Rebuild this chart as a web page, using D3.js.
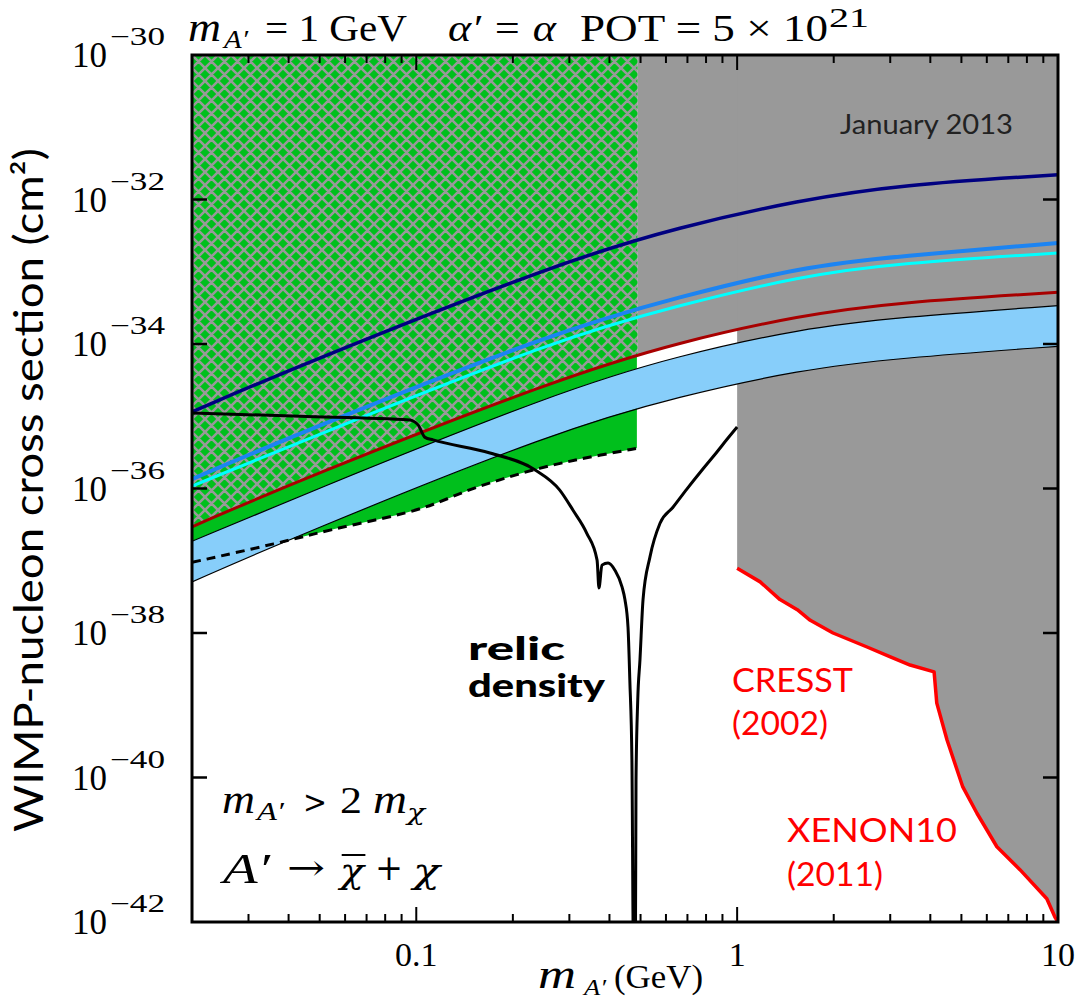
<!DOCTYPE html>
<html>
<head>
<meta charset="utf-8">
<script src="https://cdn.jsdelivr.net/npm/d3@7"></script>
<style>
  body { margin: 0; background: #fff; }
  .serif { font-family: "Liberation Serif", "DejaVu Serif", serif; }
  .dserif { font-family: "DejaVu Serif", serif; }
  .sans { font-family: Lato, "Open Sans", sans-serif; }
</style>
</head>
<body>
<div id="chart"></div>
<script>
// values: mass in GeV, cross section in cm^2
var massGrid = [0.02, 0.0434, 0.28, 0.663, 1.57, 3.2, 10];
var navySigma = [1.15e-35, 5.1e-35, 1.35e-33, 4.2e-33, 9.8e-33, 1.6e-32, 2.2e-32];
var blueSigma = [1.35e-36, 5.9e-36, 1.56e-34, 4.5e-34, 1.16e-33, 1.65e-33, 2.5e-33];
var cyanSigma = [1.08e-36, 4.4e-36, 1.21e-34, 3.45e-34, 8.7e-34, 1.32e-33, 1.82e-33];
var redSigma = [2.95e-37, 1.32e-36, 3.4e-35, 1.07e-34, 2.5e-34, 3.8e-34, 5.2e-34];
var bandTop = [1.86e-37, 7.9e-37, 2.24e-35, 7.0e-35, 1.62e-34, 2.35e-34, 3.4e-34];
var bandBottom = [5.1e-38, 2.3e-37, 6.5e-36, 1.9e-35, 4.4e-35, 6.4e-35, 9.3e-35];

var dashedMass = [0.02, 0.0376, 0.0538, 0.089, 0.113, 0.144, 0.182, 0.231, 0.295, 0.374, 0.487];
var dashedSigma = [9.5e-38, 1.77e-37, 2.7e-37, 4.3e-37, 5.9e-37, 9.5e-37, 1.32e-36, 1.82e-36, 2.35e-36, 2.9e-36, 3.6e-36];

var relicMass = [0.02, 0.0434, 0.0956, 0.0991, 0.1013, 0.1065, 0.1128, 0.1697, 0.234, 0.28, 0.308, 0.340,
  0.366, 0.371, 0.379, 0.396, 0.416, 0.438, 0.447, 0.457, 0.463, 0.470, 0.475, 0.482, 0.484, 0.490,
  0.498, 0.509, 0.535, 0.575, 0.631, 0.697, 0.782, 0.865, 0.93, 1.0];
var relicSigma = [1.11e-35, 1.0e-35, 8.9e-36, 8.3e-36, 7.6e-36, 5.1e-36, 4.7e-36, 3.1e-36, 1.82e-36, 9.5e-37, 5.0e-37, 2.4e-37,
  1.02e-37, 4.2e-38, 8.7e-38, 9.3e-38, 7.4e-38, 4.3e-38, 2.9e-38, 1.2e-38, 2.2e-39, 1.7e-40, 5e-43, 5e-43, 9.3e-41, 1.17e-39,
  4.3e-39, 2.9e-38, 1.13e-37, 3.3e-37, 5.5e-37, 9.8e-37, 1.86e-36, 3.2e-36, 4.8e-36, 7.1e-36];

var cresstMass = [1.0, 1.18, 1.36, 1.54, 1.69, 1.99, 2.54, 2.99, 3.46, 4.11, 4.19, 4.51, 5.05, 5.59, 6.45, 7.61, 9.23, 9.78, 10];
var cresstSigma = [7.9e-38, 5.1e-38, 2.9e-38, 2.1e-38, 1.5e-38, 1.0e-38, 6.4e-39, 4.7e-39, 3.6e-39, 2.9e-39, 1.07e-39,
  3.3e-40, 7.4e-41, 3.2e-41, 1.1e-41, 5.3e-42, 2.1e-42, 1.17e-42, 1.0e-42];

var hatchEdge = 0.49;     // right edge of the hatched/green region
var grayEdge = 1;         // m_A'
var xMajor = [0.1, 1];
var xMinor = [0.03, 0.04, 0.05, 0.06, 0.07, 0.08, 0.09, 0.2, 0.3, 0.4, 0.5, 0.6, 0.7, 0.8, 0.9, 2, 3, 4, 5, 6, 7, 8, 9];
var xLabels = [0.1, 1, 10];
var yExps = [-30, -32, -34, -36, -38, -40, -42];

var width = 1078, height = 1003;
var margin = { left: 192, right: 20, top: 55, bottom: 81 };

var x = d3.scaleLog().domain([0.02, 10]).range([margin.left, width - margin.right]);
var y = d3.scaleLog().domain([1e-42, 1e-30]).range([height - margin.bottom, margin.top]);
var top0 = y(1e-30);

var svg = d3.select('#chart').append('svg')
    .attr('width', width)
    .attr('height', height);

var defs = svg.append('defs');
function clipRect(id, xa, xb) {
  defs.append('clipPath').attr('id', id)
    .append('rect')
      .attr('x', xa).attr('y', top0)
      .attr('width', xb - xa).attr('height', y(1e-42) - top0);
}
clipRect('plot', x(0.02), x(10));
clipRect('hatchClip', x(0.02), x(hatchEdge));
clipRect('grayClip', x(hatchEdge), x(grayEdge) + 1);

var pat = defs.append('pattern').attr('id', 'xhatch')
    .attr('patternUnits', 'userSpaceOnUse')
    .attr('x', x(0.02)).attr('y', top0)
    .attr('width', 13).attr('height', 13);
pat.append('rect').attr('width', 13).attr('height', 13).attr('fill', '#00bf1c');
pat.append('path')
    .attr('d', 'M-3,-3L16,16M16,-3L-3,16M-3,3L3,-3M10,16L16,10M10,-3L16,3M-3,10L3,16')
    .attr('stroke', '#999').attr('stroke-width', 2.5).attr('fill', 'none');

function zipGrid(vals) { return massGrid.map(function (m, i) { return [m, vals[i]]; }); }
function zip(ms, vals) { return ms.map(function (m, i) { return [m, vals[i]]; }); }

var smooth = d3.curveBasis;
var line = d3.line()
    .x(function (d) { return x(d[0]); })
    .y(function (d) { return y(d[1]); })
    .curve(smooth);
var areaFromTop = d3.area()
    .x(function (d) { return x(d[0]); })
    .y0(top0)
    .y1(function (d) { return y(d[1]); })
    .curve(smooth);

var g = svg.append('g').attr('clip-path', 'url(#plot)');

// solid green down to the dashed line
g.append('path')
    .attr('d', areaFromTop(zip(dashedMass, dashedSigma)))
    .attr('fill', '#00bf1c');

// cross-hatch above the red line
g.append('g').attr('clip-path', 'url(#hatchClip)')
  .append('path')
    .attr('d', areaFromTop(zipGrid(redSigma)))
    .attr('fill', 'url(#xhatch)');

// gray exclusion regions
g.append('g').attr('clip-path', 'url(#grayClip)')
  .append('path')
    .attr('d', areaFromTop(zipGrid(redSigma)))
    .attr('fill', '#999');
g.append('path')
    .attr('d', d3.area()
      .x(function (d) { return x(d[0]); })
      .y0(top0)
      .y1(function (d) { return y(d[1]); })(zip(cresstMass, cresstSigma)))
    .attr('fill', '#999');

// light blue band
var band = massGrid.map(function (m, i) { return [m, bandTop[i], bandBottom[i]]; });
g.append('path')
    .attr('d', d3.area()
      .x(function (d) { return x(d[0]); })
      .y0(function (d) { return y(d[2]); })
      .y1(function (d) { return y(d[1]); })
      .curve(smooth)(band))
    .attr('fill', '#87cefa');
[bandTop, bandBottom].forEach(function (s) {
  g.append('path').attr('d', line(zipGrid(s)))
      .attr('fill', 'none').attr('stroke', '#000').attr('stroke-width', 1.2);
});

var curves = [
  { vals: redSigma, color: '#a80000', w: 3 },
  { vals: blueSigma, color: '#1c84f2', w: 4 },
  { vals: cyanSigma, color: '#00ffff', w: 3 },
  { vals: navySigma, color: '#000080', w: 3.5 }
];
curves.forEach(function (c) {
  g.append('path').attr('d', line(zipGrid(c.vals)))
      .attr('fill', 'none').attr('stroke', c.color).attr('stroke-width', c.w);
});

g.append('path').attr('d', line(zip(dashedMass, dashedSigma)))
    .attr('fill', 'none').attr('stroke', '#000').attr('stroke-width', 3)
    .attr('stroke-dasharray', '9,6');

g.append('path').attr('d', d3.line()
      .x(function (d) { return x(d[0]); })
      .y(function (d) { return y(d[1]); })
      .curve(d3.curveMonotoneX)(zip(relicMass, relicSigma)))
    .attr('fill', 'none').attr('stroke', '#000').attr('stroke-width', 3)
    .attr('stroke-linejoin', 'round');

g.append('path').attr('d', d3.line()
      .x(function (d) { return x(d[0]); })
      .y(function (d) { return y(d[1]); })(zip(cresstMass, cresstSigma)))
    .attr('fill', 'none').attr('stroke', '#ff0000').attr('stroke-width', 3.5)
    .attr('stroke-linejoin', 'round');

// frame and inward ticks
var x0 = x(0.02), x1 = x(10), yb = y(1e-42);
var axes = svg.append('g').attr('stroke', '#000');
axes.append('rect')
    .attr('x', x0).attr('y', top0).attr('width', x1 - x0).attr('height', yb - top0)
    .attr('fill', 'none').attr('stroke-width', 3);
function xticks(vals, len) {
  vals.forEach(function (v) {
    axes.append('line').attr('x1', x(v)).attr('x2', x(v)).attr('y1', yb).attr('y2', yb - len).attr('stroke-width', 2);
    axes.append('line').attr('x1', x(v)).attr('x2', x(v)).attr('y1', top0).attr('y2', top0 + len).attr('stroke-width', 2);
  });
}
xticks(xMajor, 15);
xticks(xMinor, 8);
yExps.slice(1, -1).forEach(function (e) {
  var yy = y(Math.pow(10, e));
  axes.append('line').attr('x1', x0).attr('x2', x0 + 15).attr('y1', yy).attr('y2', yy).attr('stroke-width', 2.5);
  axes.append('line').attr('x1', x1).attr('x2', x1 - 15).attr('y1', yy).attr('y2', yy).attr('stroke-width', 2.5);
});

// text helper: one text element per piece so each can be placed where the figure has it
function txt(cls, px, py, s, size, opts) {
  opts = opts || {};
  var t = svg.append('text').attr('class', cls)
      .attr('x', px).attr('y', py).attr('font-size', size).text(s);
  if (opts.italic) t.attr('font-style', 'italic');
  if (opts.weight) t.attr('font-weight', opts.weight);
  if (opts.fill) t.attr('fill', opts.fill);
  if (opts.anchor) t.attr('text-anchor', opts.anchor);
  if (opts.len) t.attr('textLength', opts.len).attr('lengthAdjust', 'spacingAndGlyphs');
  return t;
}

// tick labels
yExps.forEach(function (e) {
  var yy = y(Math.pow(10, e));
  txt('serif', 72, yy + 12, '10', 35, { len: 35 });
  txt('serif', 110, yy - 10, '\u2212' + Math.abs(e), 25, { len: 55 });
});
xLabels.forEach(function (v) {
  txt('serif', x(v), 966, d3.format('~g')(v), 34, { anchor: 'middle' });
});

// axis titles
txt('serif', 538, 988, 'm', 40, { italic: true, len: 38 });
txt('serif', 584, 995, 'A\u2032', 23, { italic: true, len: 22 });
txt('serif', 614, 988, '(GeV)', 34, { len: 89 });

svg.append('text').attr('class', 'sans')
    .attr('transform', 'translate(43,490) rotate(-90)')
    .attr('text-anchor', 'middle').attr('font-size', 40)
    .attr('textLength', 684).attr('lengthAdjust', 'spacingAndGlyphs')
    .text('WIMP-nucleon cross section (cm\u00b2)');

// header
txt('serif', 188, 41, 'm', 40, { italic: true, len: 33 });
txt('serif', 224, 48, 'A\u2032', 25, { italic: true, len: 24 });
txt('serif', 265, 41, '= 1 GeV', 38, { len: 142 });
txt('serif', 448, 41, '\u03b1\u2032 = \u03b1', 38, { italic: true, len: 108 });
txt('serif', 580, 41, 'POT = 5 \u00d7 10', 38, { len: 248 });
txt('serif', 829, 27, '21', 27, { len: 40 });

// annotations
txt('sans', 840, 134, 'January 2013', 27, { fill: '#222', len: 173 });
txt('sans', 468, 660, 'relic', 32, { weight: 900, len: 97 });
txt('sans', 468, 697, 'density', 32, { weight: 900, len: 137 });

var redLabels = [
  { t: 'CRESST', x: 732, y: 692, w: 121 },
  { t: '(2002)', x: 732, y: 735, w: 96 },
  { t: 'XENON10', x: 787, y: 842, w: 170 },
  { t: '(2011)', x: 787, y: 886, w: 96 }
];
redLabels.forEach(function (d) {
  txt('sans', d.x, d.y, d.t, 33, { fill: '#ff0000', len: d.w });
});

// m_A' > 2 m_chi
txt('serif', 222, 813, 'm', 40, { italic: true, len: 33 });
txt('serif', 257, 820, 'A\u2032', 26, { italic: true, len: 27 });
txt('dserif', 303, 813, '>', 32, { len: 24 });
txt('serif', 340, 813, '2', 38, { len: 22 });
txt('serif', 373, 813, 'm', 40, { italic: true, len: 34 });
txt('dserif', 407, 820, '\u03c7', 22, { italic: true, len: 18 });

// A' -> chi-bar + chi
txt('serif', 223, 883, 'A\u2032', 42, { italic: true, len: 47 });
txt('dserif', 287, 880, '\u2192', 36, { len: 38 });
var chiBar = txt('dserif', 340, 883, '\u03c7', 36, { italic: true, len: 24 });
var bb = chiBar.node().getBBox();
svg.append('line')
    .attr('x1', bb.x + 5).attr('x2', bb.x + bb.width - 1)
    .attr('y1', 855).attr('y2', 855)
    .attr('stroke', '#000').attr('stroke-width', 2);
txt('dserif', 375, 880, '+', 36, { len: 28 });
txt('dserif', 413, 883, '\u03c7', 36, { italic: true, len: 27 });
</script>
</body>
</html>
